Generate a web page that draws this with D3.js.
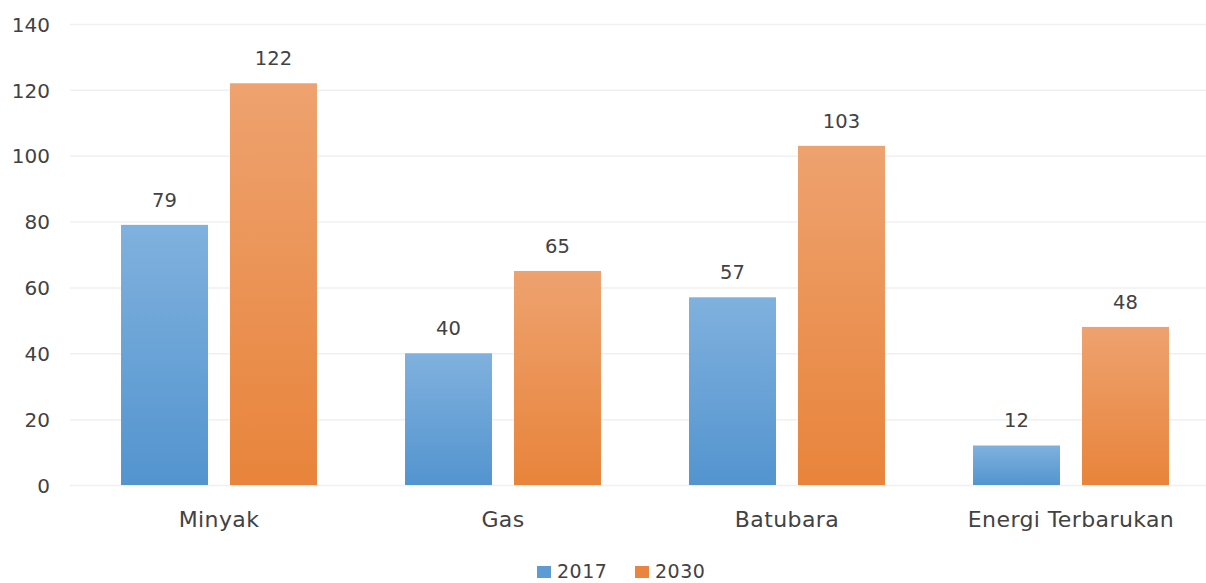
<!DOCTYPE html>
<html>
<head>
<meta charset="utf-8">
<script src="https://cdn.jsdelivr.net/npm/d3@7"></script>
<style>
  html, body { margin: 0; padding: 0; background: #fff; }
  svg { display: block; }
  text { font-family: "DejaVu Sans", "Noto Sans", sans-serif; fill: #424242; }
</style>
</head>
<body>
<svg id="chart" width="1206" height="583"></svg>
<script>
// Energy demand by source, 2017 vs 2030
const categories = ["Minyak", "Gas", "Batubara", "Energi Terbarukan"];
const seriesNames = ["2017", "2030"];
const values2017 = [79, 40, 57, 12];
const values2030 = [122, 65, 103, 48];
const yTicks = [0, 20, 40, 60, 80, 100, 120, 140];

const seriesValues = [values2017, values2030];
const data = categories.map((c, i) => ({
  category: c,
  values: seriesNames.map((s, j) => ({ series: s, value: seriesValues[j][i] }))
}));

const svg = d3.select("#chart");
const plot = { left: 77, right: 1213, top: 24, bottom: 485 };

const x0 = d3.scaleBand().domain(categories).range([plot.left, plot.right]).paddingInner(0.31).paddingOuter(0.155);
const x1 = d3.scaleBand().domain(seriesNames).range([0, x0.bandwidth()]).paddingInner(0.202);
const y = d3.scaleLinear().domain([0, 140]).range([plot.bottom, plot.top]);

// vertical gradients for the bar fills
const defs = svg.append("defs");
const grads = [
  { id: "g2017", top: "#80b1de", bottom: "#5394cf" },
  { id: "g2030", top: "#eea26f", bottom: "#e8843b" }
];
grads.forEach(g => {
  const lg = defs.append("linearGradient").attr("id", g.id)
    .attr("x1", 0).attr("y1", 0).attr("x2", 0).attr("y2", 1);
  lg.append("stop").attr("offset", "0%").attr("stop-color", g.top);
  lg.append("stop").attr("offset", "100%").attr("stop-color", g.bottom);
});
const fillFor = { "2017": "url(#g2017)", "2030": "url(#g2030)" };
const legendColor = { "2017": "#5d9bd3", "2030": "#eb8441" };

// horizontal gridlines
svg.append("g")
  .selectAll("line").data(yTicks).join("line")
  .attr("x1", 70).attr("x2", 1206)
  .attr("y1", d => y(d) + 0.5).attr("y2", d => y(d) + 0.5)
  .attr("stroke", "#f0f0f0").attr("stroke-width", 1.5);

// y axis labels
const yAxis = d3.axisLeft(y).tickValues(yTicks).tickSize(0).tickPadding(0);
const yg = svg.append("g").attr("transform", "translate(50,0)").call(yAxis);
yg.select(".domain").remove();
yg.selectAll("text")
  .style("font-family", "'DejaVu Sans', sans-serif")
  .style("font-size", "20px")
  .attr("dy", "0.36em")
  .attr("fill", "#424242");

// bars
const groups = svg.append("g").selectAll("g").data(data).join("g")
  .attr("transform", d => `translate(${x0(d.category)},0)`);

groups.selectAll("rect").data(d => d.values).join("rect")
  .attr("x", d => x1(d.series))
  .attr("width", x1.bandwidth())
  .attr("y", d => y(d.value))
  .attr("height", d => y(0) - y(d.value))
  .attr("fill", d => fillFor[d.series]);

// value labels above bars
groups.selectAll("text.val").data(d => d.values).join("text")
  .attr("class", "val")
  .attr("x", d => x1(d.series) + x1.bandwidth() / 2)
  .attr("y", d => y(d.value) - 18)
  .attr("text-anchor", "middle")
  .style("font-size", "19.5px")
  .text(d => d.value);

// category labels
const xAxis = d3.axisBottom(x0).tickSize(0).tickPadding(0);
const xg = svg.append("g").attr("transform", `translate(0,${plot.bottom + 42})`).call(xAxis);
xg.select(".domain").remove();
xg.selectAll("text")
  .style("font-family", "'DejaVu Sans', sans-serif")
  .style("font-size", "22px")
  .style("letter-spacing", "0.4px")
  .attr("dy", 0)
  .attr("fill", "#424242");

// legend
const legend = svg.append("g").attr("transform", "translate(537,566)");
const legendItems = legend.selectAll("g").data(seriesNames).join("g")
  .attr("transform", (d, i) => `translate(${i * 98},0)`);
legendItems.append("rect")
  .attr("width", 14).attr("height", 12)
  .attr("fill", d => legendColor[d]);
legendItems.append("text")
  .attr("x", 20).attr("y", 12)
  .style("font-size", "19px")
  .style("letter-spacing", "0.5px")
  .text(d => d);
</script>
</body>
</html>
